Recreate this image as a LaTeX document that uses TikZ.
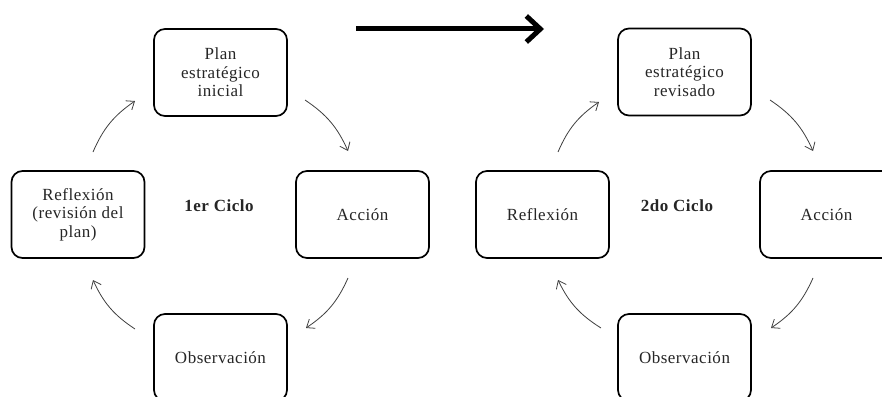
\documentclass[tikz,border=0pt]{standalone}
\usepackage{fontspec}
\setmainfont{Liberation Serif}[LetterSpace=3]
\usetikzlibrary{arrows.meta}
\begin{document}
\begin{tikzpicture}[x=1pt,y=-1pt,
  stage/.style={draw=black, line width=1.7pt, rounded corners=11pt,
    minimum width=133pt, minimum height=87pt, inner sep=2pt, align=center,
    font=\fontsize{17}{18.5}\selectfont, text=black!85},
  cyclelabel/.style={font=\fontsize{17}{18.5}\selectfont\bfseries, text=black!85},
  flow/.style={draw=black!75, line width=0.8pt, -{Straight Barb[length=7pt,width=11pt]}, bend left=16},
  bigarrow/.style={line width=5pt, -{Straight Barb[length=14pt,width=26pt]}}]
\useasboundingbox[fill=white] (0,0) rectangle (882,396);

% First cycle
\node[stage] (plan1) at (220.5,72.5) {Plan\\estratégico\\inicial};
\node[stage] (acc1)  at (362.5,214.5) {Acción};
\node[stage] (obs1)  at (220.5,357.5) {Observación};
\node[stage] (refl1) at (78,214.5) {Reflexión\\(revisión del\\plan)};
\node[cyclelabel] (lab1) at (219,206) {1er Ciclo};

% Second cycle
\node[stage] (plan2) at (684.5,72) {Plan\\estratégico\\revisado};
\node[stage] (acc2)  at (826.5,214.5) {Acción};
\node[stage] (obs2)  at (684.5,357.5) {Observación};
\node[stage] (refl2) at (542.5,214.5) {Reflexión};
\node[cyclelabel] (lab2) at (677,206) {2do Ciclo};

% Arrow ends between the stages
\coordinate (r1s) at (93,152);  \coordinate (r1e) at (135,101);
\coordinate (p1s) at (305,100); \coordinate (p1e) at (348,151);
\coordinate (a1s) at (348,278); \coordinate (a1e) at (306,328);
\coordinate (o1s) at (135,329); \coordinate (o1e) at (93,280);

\coordinate (r2s) at (558,152); \coordinate (r2e) at (599,102);
\coordinate (p2s) at (770,100); \coordinate (p2e) at (813,151);
\coordinate (a2s) at (813,278); \coordinate (a2e) at (771,328);
\coordinate (o2s) at (601,328); \coordinate (o2e) at (558,280);

\draw[flow] (r1s) to (r1e);
\draw[flow] (p1s) to (p1e);
\draw[flow] (a1s) to (a1e);
\draw[flow] (o1s) to (o1e);

\draw[flow] (r2s) to (r2e);
\draw[flow] (p2s) to (p2e);
\draw[flow] (a2s) to (a2e);
\draw[flow] (o2s) to (o2e);

% Transition from first to second cycle
\coordinate (ts) at (356,29);
\coordinate (te) at (544,29);
\draw[bigarrow] (ts) -- (te);
\end{tikzpicture}
\end{document}
